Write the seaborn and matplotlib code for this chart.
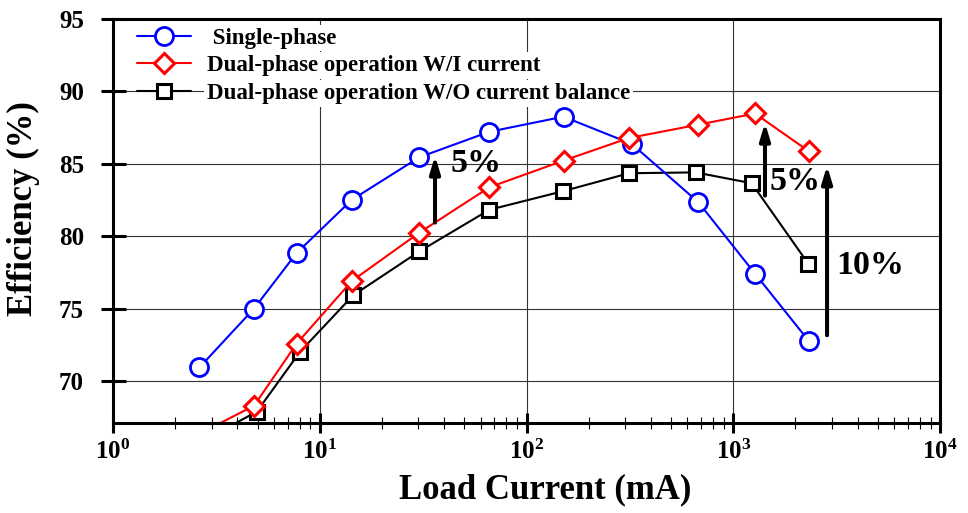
import numpy as np
import matplotlib
matplotlib.use("Agg")
import matplotlib.pyplot as plt
from matplotlib.ticker import FixedLocator, FuncFormatter, LogLocator, NullFormatter, NullLocator
import seaborn as sns

# ---------------- data ----------------
single_x = [2.62, 4.81, 7.74, 14.3, 30.3, 66.1, 151, 323, 678, 1274, 2324]
single_eff = [70.94, 75.00, 78.84, 82.50, 85.43, 87.19, 88.23, 86.35, 82.33, 77.41, 72.75]

wi_x = [4.81, 7.74, 14.3, 30.3, 66.1, 151, 313, 678, 1274, 2324]
wi_eff = [68.30, 72.59, 76.90, 80.23, 83.36, 85.20, 86.76, 87.68, 88.45, 85.84]

wo_x = [4.96, 8.03, 14.5, 30.3, 66.1, 150, 313, 658, 1228, 2307]
wo_eff = [67.89, 72.02, 75.91, 78.94, 81.81, 83.09, 84.33, 84.39, 83.64, 78.09]

# points below the visible range: only their line segments show
wi_low_x, wi_low_eff = [3.0], [66.8]
wo_low_x, wo_low_eff = [3.48], [66.7]

series_labels = [" Single-phase",
                 "Dual-phase operation W/I current",
                 "Dual-phase operation W/O current balance"]
y_ticks = [70, 75, 80, 85, 90, 95]
x_decades = [0, 1, 2, 3, 4]

gain_labels = ["5%", "5%", "10%"]

# ---------------- style ----------------
sns.set_style("ticks")
plt.rcParams["font.family"] = ["Liberation Serif", "DejaVu Serif"]
plt.rcParams["font.weight"] = "bold"
plt.rcParams["mathtext.fontset"] = "custom"
plt.rcParams["mathtext.bf"] = "Liberation Serif:bold"
plt.rcParams["mathtext.rm"] = "Liberation Serif:bold"
for k in ["text.color", "axes.labelcolor", "xtick.color", "ytick.color",
          "xtick.labelcolor", "ytick.labelcolor", "axes.edgecolor"]:
    plt.rcParams[k] = "black"

W, H = 968, 513
fig = plt.figure(figsize=(W / 100, H / 100), dpi=100)
ax = fig.add_axes([113 / W, 1 - 422.7 / H, 827 / W, 404.2 / H])
ax.set_xscale("log")

lw = 1.5
# black (W/O) first, then blue, then red on top
sns.lineplot(x=wo_low_x + wo_x[:1], y=wo_low_eff + wo_eff[:1], color="black", lw=lw,
             ax=ax, estimator=None, sort=False, legend=False)
sns.lineplot(x=wo_x, y=wo_eff, color="black", lw=lw, marker="s", markersize=9.5,
             markerfacecolor="white", markeredgecolor="black", markeredgewidth=2.2,
             ax=ax, estimator=None, sort=False, label=series_labels[2])

sns.lineplot(x=single_x, y=single_eff, color="blue", lw=lw, marker="o", markersize=13,
             markerfacecolor="white", markeredgecolor="blue", markeredgewidth=2.0,
             ax=ax, estimator=None, sort=False, label=series_labels[0])

sns.lineplot(x=wi_low_x + wi_x[:1], y=wi_low_eff + wi_eff[:1], color="red", lw=lw,
             ax=ax, estimator=None, sort=False, legend=False)
sns.lineplot(x=wi_x, y=wi_eff, color="red", lw=lw, marker="D", markersize=10,
             markerfacecolor="white", markeredgecolor="red", markeredgewidth=2.2,
             ax=ax, estimator=None, sort=False, label=series_labels[1])

ax.set_xlim(10 ** x_decades[0], 10 ** x_decades[-1])
ax.set_ylim(67.13, 95)

# grid
ax.set_axisbelow(True)
ax.grid(True, which="major", color="#333333", lw=0.8)

# ticks
ax.xaxis.set_major_locator(FixedLocator([10.0 ** d for d in x_decades]))
ax.xaxis.set_minor_locator(LogLocator(base=10, subs=np.arange(2, 10)))
ax.xaxis.set_minor_formatter(NullFormatter())
ax.xaxis.set_major_formatter(FuncFormatter(lambda v, p: r"$\mathbf{10^{%d}}$" % round(np.log10(v))))
ax.yaxis.set_major_locator(FixedLocator(y_ticks))
ax.yaxis.set_minor_locator(NullLocator())

ax.tick_params(axis="y", which="major", direction="inout", length=18, width=2.2,
               pad=12, labelsize=18, right=False, colors="black")
ax.tick_params(axis="x", which="major", direction="inout", length=14, width=2.2,
               pad=5, labelsize=18, top=False, colors="black")
ax.tick_params(axis="x", which="minor", direction="inout", length=9, width=0.8, top=False,
               colors="black")
for lab in ax.get_yticklabels():
    lab.set_fontweight("bold")

for s in ax.spines.values():
    s.set_linewidth(2.2)
    s.set_color("black")
    s.set_visible(True)

ax.set_xlabel("Load Current (mA)", fontsize=25, fontweight="bold", color="black")
ax.set_ylabel("Efficiency (%)", fontsize=25, fontweight="bold", color="black")
ax.xaxis.set_label_coords((545 - 113) / 827, -0.125)
ax.yaxis.set_label_coords(-0.088, 0.531)

# arrows and gain labels
arrows = [((36.1, 80.93), (36.1, 85.54)),
          ((1424, 82.79), (1424, 87.81)),
          ((2842, 73.16), (2842, 84.86))]
for (p0, p1) in arrows:
    ax.annotate("", xy=p1, xytext=p0,
                arrowprops=dict(arrowstyle="-|>,head_length=1.0,head_width=0.3",
                                lw=2.9, color="black", shrinkA=0, shrinkB=0))
text_pos = [(57, 84.99), (1990, 83.79), (4585, 77.94)]
for (tx, ty), t in zip(text_pos, gain_labels):
    ax.text(tx, ty, t, fontsize=24.5, fontweight="bold", ha="center", va="center",
            color="black")

# legend
handles, labs = ax.get_legend_handles_labels()
order = [labs.index(l) for l in series_labels]
leg = ax.legend([handles[i] for i in order], [labs[i] for i in order],
                loc="upper left", bbox_to_anchor=(137 / W, 1 - 27.5 / H),
                bbox_transform=fig.transFigure, frameon=False, borderpad=0,
                borderaxespad=0, handlelength=2.35, handletextpad=0.7,
                labelspacing=0.29, numpoints=1,
                prop={"family": "Liberation Serif", "weight": "bold", "size": 16.5})
for t in leg.get_texts():
    t.set_bbox(dict(facecolor="white", edgecolor="none", pad=2))
    t.set_color("black")
leg.set_zorder(5)

fig.savefig("out.png", dpi=100)
